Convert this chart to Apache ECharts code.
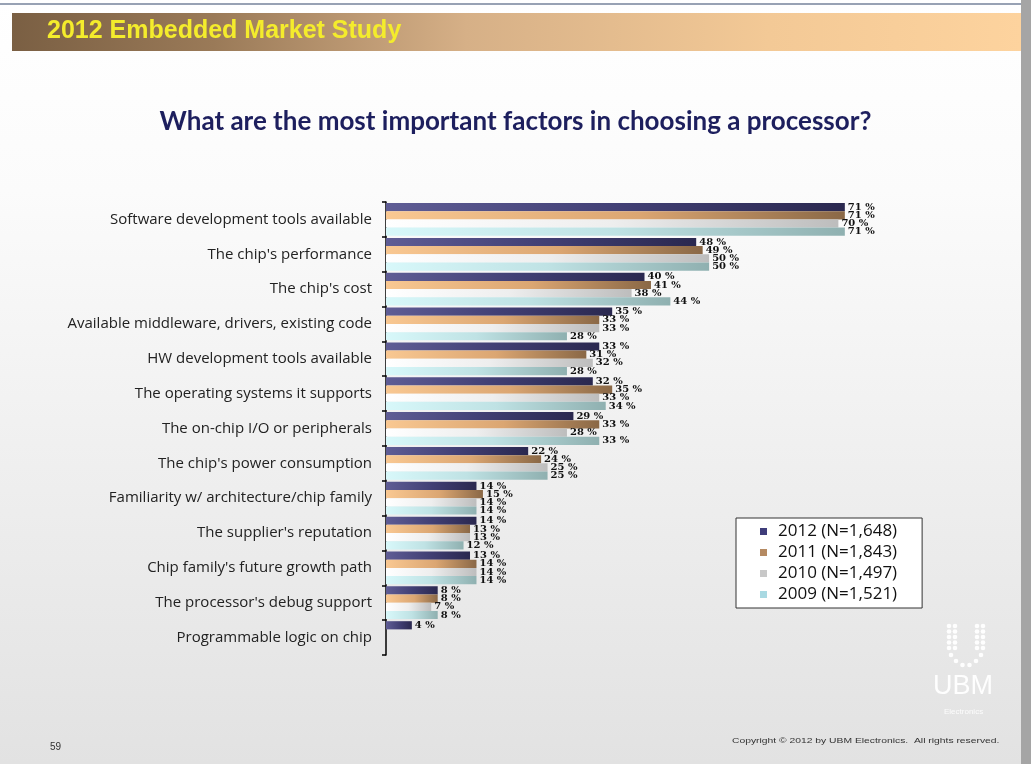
<!DOCTYPE html>
<html>
<head>
<meta charset="utf-8">
<script src="https://cdn.jsdelivr.net/npm/echarts@6/dist/echarts.min.js"></script>
<style>html,body{margin:0;padding:0;background:#fff}#c{width:1031px;height:764px}</style>
</head>
<body>
<div id="c"></div>
<script>
var categories = [
  "Software development tools available",
  "The chip's performance",
  "The chip's cost",
  "Available middleware, drivers, existing code",
  "HW development tools available",
  "The operating systems it supports",
  "The on-chip I/O or peripherals",
  "The chip's power consumption",
  "Familiarity w/ architecture/chip family",
  "The supplier's reputation",
  "Chip family's future growth path",
  "The processor's debug support",
  "Programmable logic on chip"
];
var seriesNames = ["2012 (N=1,648)", "2011 (N=1,843)", "2010 (N=1,497)", "2009 (N=1,521)"];
var v2012 = [71, 48, 40, 35, 33, 32, 29, 22, 14, 14, 13, 8, 4];
var v2011 = [71, 49, 41, 33, 31, 35, 33, 24, 15, 13, 14, 8, null];
var v2010 = [70, 50, 38, 33, 32, 33, 28, 25, 14, 13, 14, 7, null];
var v2009 = [71, 50, 44, 28, 28, 34, 33, 25, 14, 12, 14, 8, null];

var G = echarts.graphic.LinearGradient;
var barFills = [
  new G(0, 0, 1, 0, [{offset: 0, color: '#5f5d95'}, {offset: 0.5, color: '#424075'}, {offset: 1, color: '#2a284f'}]),
  new G(0, 0, 1, 0, [{offset: 0, color: '#f9c892'}, {offset: 0.55, color: '#dba672'}, {offset: 1, color: '#8a6846'}]),
  new G(0, 0, 1, 0, [{offset: 0, color: '#ffffff'}, {offset: 0.5, color: '#eeeeee'}, {offset: 1, color: '#bdbdbd'}]),
  new G(0, 0, 1, 0, [{offset: 0, color: '#d8f8fa'}, {offset: 0.5, color: '#bfe2e4'}, {offset: 1, color: '#8fb0b0'}])
];
var legendColors = ['#3f3d7a', '#b58a62', '#c8c8c8', '#a9d9e2'];
var values = [v2012, v2011, v2010, v2009];

var chart = echarts.init(document.getElementById('c'), null, {renderer: 'canvas'});

var series = values.map(function (arr, i) {
  return {
    name: seriesNames[i],
    type: 'bar',
    data: arr,
    barGap: '0%',
    barCategoryGap: '6%',
    itemStyle: {color: barFills[i]},
    label: {
      show: true,
      position: 'right',
      distance: 3,
      formatter: function (p) { return p.value == null ? '' : p.value + ' %'; },
      fontFamily: 'DejaVu Serif',
      fontSize: 10,
      fontWeight: 'bold',
      color: '#111'
    }
  };
});

// UBM logo dots
var logo = [];
var cx = 966, topY = 626;
for (var r = 0; r < 5; r++) {
  [-17, -11, 11, 17].forEach(function (dx) {
    logo.push({type: 'circle', shape: {cx: cx + dx, cy: topY + r * 5.5, r: 2.3}, style: {fill: '#ffffff', opacity: 0.95}, silent: true});
  });
}
[[-15, 655], [-10, 661], [-3.5, 665], [3.5, 665], [10, 661], [15, 655]].forEach(function (p) {
  logo.push({type: 'circle', shape: {cx: cx + p[0], cy: p[1], r: 2.3}, style: {fill: '#ffffff', opacity: 0.95}, silent: true});
});

var option = {
  backgroundColor: 'transparent',
  animation: false,
  graphic: {
    elements: [
      {type: 'rect', z: -10, shape: {x: 0, y: 0, width: 1031, height: 764},
        style: {fill: new G(0, 0, 0, 1, [{offset: 0, color: '#ffffff'}, {offset: 0.25, color: '#fbfbfb'}, {offset: 1, color: '#e2e2e2'}])}, silent: true},
      {type: 'rect', z: -9, shape: {x: 1021, y: 0, width: 10, height: 764}, style: {fill: '#a5a5a5'}, silent: true},
      {type: 'rect', z: -9, shape: {x: 0, y: 3, width: 1021, height: 2}, style: {fill: '#98a2b4'}, silent: true},
      {type: 'rect', z: -8, shape: {x: 12, y: 13, width: 1009, height: 38},
        style: {fill: new G(0, 0, 1, 0, [{offset: 0, color: '#7a5f43'}, {offset: 0.2, color: '#9a7a58'}, {offset: 0.45, color: '#d6b087'}, {offset: 0.75, color: '#f3c996'}, {offset: 1, color: '#fdd39e'}])}, silent: true},
      {type: 'text', z: 5, left: 47, top: 19, style: {text: '2012 Embedded Market Study', fill: '#f4ec2c', font: 'bold 25px "Liberation Sans", Arial, sans-serif'}, silent: true},
      {type: 'text', z: 5, left: 50, top: 742, style: {text: '59', fill: '#333', font: '10px "Liberation Sans", sans-serif'}, silent: true},
      {type: 'text', z: 5, x: 732, y: 737, scaleX: 1.29, style: {text: 'Copyright \u00a9 2012 by UBM Electronics.  All rights reserved.', fill: '#333', font: '8px "Liberation Sans", sans-serif'}, silent: true},
      {type: 'text', z: 5, left: 933, top: 673, style: {text: 'UBM', fill: '#ffffff', font: '27px "Liberation Sans", sans-serif', opacity: 0.95}, silent: true},
      {type: 'text', z: 5, left: 944, top: 708, style: {text: 'Electronics', fill: '#ffffff', font: '8px "Liberation Sans", sans-serif', opacity: 0.9}, silent: true}
    ].concat(logo)
  },
  title: {
    text: 'What are the most important factors in choosing a processor?',
    left: 'center',
    top: 104,
    textStyle: {fontFamily: 'Lato, "Open Sans", sans-serif', fontSize: 26, fontWeight: 'bold', color: '#1d1f5e'}
  },
  legend: {
    orient: 'vertical',
    left: 736,
    top: 518,
    backgroundColor: '#ffffff',
    borderColor: '#333333',
    borderWidth: 1,
    padding: [5, 25, 5, 24],
    itemGap: 4,
    itemWidth: 7,
    itemHeight: 7,
    icon: 'rect',
    data: seriesNames.map(function (n, i) { return {name: n, itemStyle: {color: legendColors[i]}}; }),
    textStyle: {fontFamily: '"Open Sans", sans-serif', fontSize: 17, color: '#111', padding: [0, 0, 0, 6]}
  },
  grid: {left: 386, top: 202, right: 128, bottom: 109, containLabel: false},
  xAxis: {
    type: 'value', min: 0, max: 80, show: false
  },
  yAxis: {
    type: 'category',
    data: categories,
    inverse: true,
    axisLine: {show: true, lineStyle: {color: '#000', width: 1.5}},
    axisTick: {show: true, inside: false, length: 4, alignWithLabel: false, lineStyle: {color: '#000', width: 1.5}},
    axisLabel: {fontFamily: '"Open Sans", sans-serif', fontSize: 15, color: '#222', margin: 14}
  },
  series: series
};
chart.setOption(option);
</script>
</body>
</html>
